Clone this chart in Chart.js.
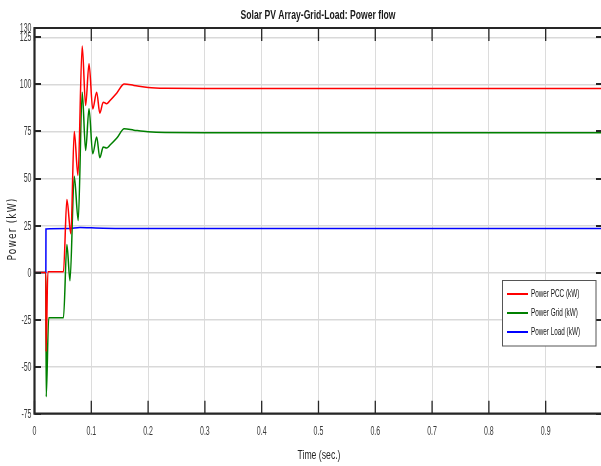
<!DOCTYPE html>
<html><head><meta charset="utf-8">
<script src="https://cdn.jsdelivr.net/npm/chart.js@4.4.0/dist/chart.umd.min.js"></script>
<style>html,body{margin:0;padding:0;background:#fff;overflow:hidden;}</style>
</head><body>
<canvas id="c" width="601" height="466"></canvas>
<script>
const titleText = 'Solar PV Array-Grid-Load: Power flow';
const xTitleText = 'Time (sec.)';
const yTitleText = 'Power (kW)';
const seriesLabels = ['Power PCC (kW)', 'Power Grid (kW)', 'Power Load (kW)'];
const seriesColors = ['#ff0000', '#008000', '#0000ff'];
const xTicks = [0, 0.1, 0.2, 0.3, 0.4, 0.5, 0.6, 0.7, 0.8, 0.9];
const yTicks = [-75, -50, -25, 0, 25, 50, 75, 100, 125, 130];

const timePCC  = [0, 0.0200, 0.0204, 0.0235, 0.0510, 0.0570, 0.0640, 0.0700, 0.0765, 0.0840, 0.0900, 0.0960, 0.1025, 0.1095, 0.1150, 0.1210, 0.1270, 0.1330, 0.1450, 0.1580, 0.1750, 0.2000, 0.2300, 0.3000, 1.0];
const powerPCC = [0, 0, -42, 0.5, 0.5, 38.8, 20.7, 75.0, 51.6, 120.4, 88.8, 111.0, 87.0, 95.9, 84.7, 90.6, 89.7, 91.5, 95.5, 100.2, 99.5, 98.4, 98.0, 97.9, 97.9];

const timeGrid  = [0, 0.0200, 0.0206, 0.0250, 0.0510, 0.0570, 0.0625, 0.0700, 0.0770, 0.0840, 0.0900, 0.0960, 0.1025, 0.1095, 0.1150, 0.1210, 0.1270, 0.1330, 0.1450, 0.1580, 0.1750, 0.2000, 0.2300, 0.3000, 1.0];
const powerGrid = [0, 0, -66, -24, -24, 14.9, -4.3, 51.2, 27.7, 95.9, 64.9, 87.1, 63.1, 72.0, 61.0, 66.7, 66.2, 67.8, 71.5, 76.4, 75.7, 74.8, 74.4, 74.3, 74.3];

const timeLoad  = [0, 0.0200, 0.0202, 0.0600, 0.0800, 0.1000, 0.1500, 1.0];
const powerLoad = [0, 0, 23.2, 23.4, 24.0, 23.8, 23.5, 23.4];

const X_MAX = 0.9974;
const SANS = "'Liberation Sans', Arial, sans-serif";
const TICK_SCALE = 0.56;

function pts(t, v) { return t.map((x, i) => ({ x: x, y: v[i] })); }

function fitText(ctx, text, x, y, font, targetW, align, rot) {
  ctx.save();
  ctx.font = font;
  const w = ctx.measureText(text).width;
  const s = targetW / w;
  ctx.translate(x, y);
  if (rot) ctx.rotate(rot);
  ctx.scale(s, 1);
  ctx.textAlign = align || 'center';
  ctx.textBaseline = 'middle';
  ctx.fillText(text, 0, 0);
  ctx.restore();
}

function squeezeText(ctx, text, x, y, sx, align) {
  ctx.save();
  ctx.translate(x, y);
  ctx.scale(sx, 1);
  ctx.textAlign = align;
  ctx.textBaseline = 'middle';
  ctx.fillText(text, 0, 0);
  ctx.restore();
}

const decor = {
  id: 'decor',
  afterDraw(chart) {
    const ctx = chart.ctx;
    const a = chart.chartArea;
    const xs = chart.scales.x, ys = chart.scales.y;
    ctx.save();
    // tick labels placed through the scales
    ctx.fillStyle = '#3a3a3a';
    ctx.font = '12.5px ' + SANS;
    ys.ticks.forEach(t => {
      squeezeText(ctx, String(t.value), a.left - 3, ys.getPixelForValue(t.value) + 0.5, TICK_SCALE, 'right');
    });
    xs.ticks.forEach(t => {
      squeezeText(ctx, String(t.value), xs.getPixelForValue(t.value), 432, TICK_SCALE, 'center');
    });
    // tick marks
    ctx.strokeStyle = '#262626';
    ctx.lineWidth = 2;
    yTicks.forEach(v => {
      const p = Math.round(ys.getPixelForValue(v));
      ctx.beginPath(); ctx.moveTo(a.left, p); ctx.lineTo(a.left + 6.5, p); ctx.stroke();
      ctx.beginPath(); ctx.moveTo(a.right - 5, p); ctx.lineTo(a.right, p); ctx.stroke();
    });
    ctx.lineWidth = 1.3;
    xTicks.forEach(v => {
      const p = xs.getPixelForValue(v);
      ctx.beginPath(); ctx.moveTo(p, a.bottom); ctx.lineTo(p, a.bottom - 13); ctx.stroke();
      ctx.beginPath(); ctx.moveTo(p, a.top); ctx.lineTo(p, a.top + 13); ctx.stroke();
    });
    // frame
    ctx.lineWidth = 2.2;
    ctx.beginPath();
    ctx.moveTo(a.right + 2, a.top); ctx.lineTo(a.left, a.top); ctx.lineTo(a.left, a.bottom); ctx.lineTo(a.right + 2, a.bottom);
    ctx.stroke();

    // titles
    ctx.fillStyle = '#1a1a1a';
    fitText(ctx, titleText, 318, 15.5, 'bold 13px ' + SANS, 155, 'center');
    ctx.fillStyle = '#262626';
    fitText(ctx, xTitleText, 319, 455, '13px ' + SANS, 43, 'center');
    ctx.save();
    ctx.letterSpacing = '1.5px';
    fitText(ctx, yTitleText, 12.5, 229, '12px "DejaVu Sans", sans-serif', 63, 'center', -Math.PI / 2);
    ctx.restore();

    // legend
    const lx = 502.5, ly = 280.5, lw = 93.5, lh = 65.5;
    ctx.fillStyle = '#ffffff';
    ctx.fillRect(lx, ly, lw, lh);
    ctx.strokeStyle = '#555555';
    ctx.lineWidth = 1;
    ctx.strokeRect(lx, ly, lw, lh);
    const rows = [294, 313, 332];
    ctx.font = '10.5px ' + SANS;
    const sc = 49 / ctx.measureText(seriesLabels[2]).width;
    chart.data.datasets.forEach((ds, i) => {
      ctx.strokeStyle = ds.borderColor;
      ctx.lineWidth = 2;
      ctx.beginPath(); ctx.moveTo(507, rows[i]); ctx.lineTo(528, rows[i]); ctx.stroke();
      ctx.fillStyle = '#111111';
      squeezeText(ctx, ds.label, 531, rows[i], sc, 'left');
    });
    ctx.restore();
  }
};

new Chart(document.getElementById('c'), {
  type: 'line',
  data: {
    datasets: [
      { label: seriesLabels[0], data: pts(timePCC, powerPCC), borderColor: seriesColors[0] },
      { label: seriesLabels[1], data: pts(timeGrid, powerGrid), borderColor: seriesColors[1] },
      { label: seriesLabels[2], data: pts(timeLoad, powerLoad), borderColor: seriesColors[2] }
    ]
  },
  options: {
    responsive: false,
    devicePixelRatio: 1,
    animation: false,
    layout: { padding: { left: 0, right: 0, top: 28, bottom: 0 } },
    elements: {
      point: { radius: 0, hoverRadius: 0 },
      line: { borderWidth: 1.5, cubicInterpolationMode: 'monotone', fill: false }
    },
    plugins: {
      legend: { display: false },
      title: { display: false },
      tooltip: { enabled: false }
    },
    scales: {
      x: {
        type: 'linear', min: 0, max: X_MAX,
        afterBuildTicks: s => { s.ticks = xTicks.map(v => ({ value: v })); },
        afterFit: s => { s.height = 52.3; },
        grid: { color: '#dcdcdc', lineWidth: 1, drawTicks: false },
        border: { display: false },
        ticks: { display: false, autoSkip: false, maxRotation: 0 }
      },
      y: {
        type: 'linear', min: -75, max: 130,
        afterBuildTicks: s => { s.ticks = yTicks.map(v => ({ value: v })); },
        afterFit: s => { s.width = 34.5; },
        grid: { color: '#d9d9d9', lineWidth: 1.5, drawTicks: false },
        border: { display: false },
        ticks: { display: false, autoSkip: false }
      }
    }
  },
  plugins: [decor]
});
</script>
</body></html>
